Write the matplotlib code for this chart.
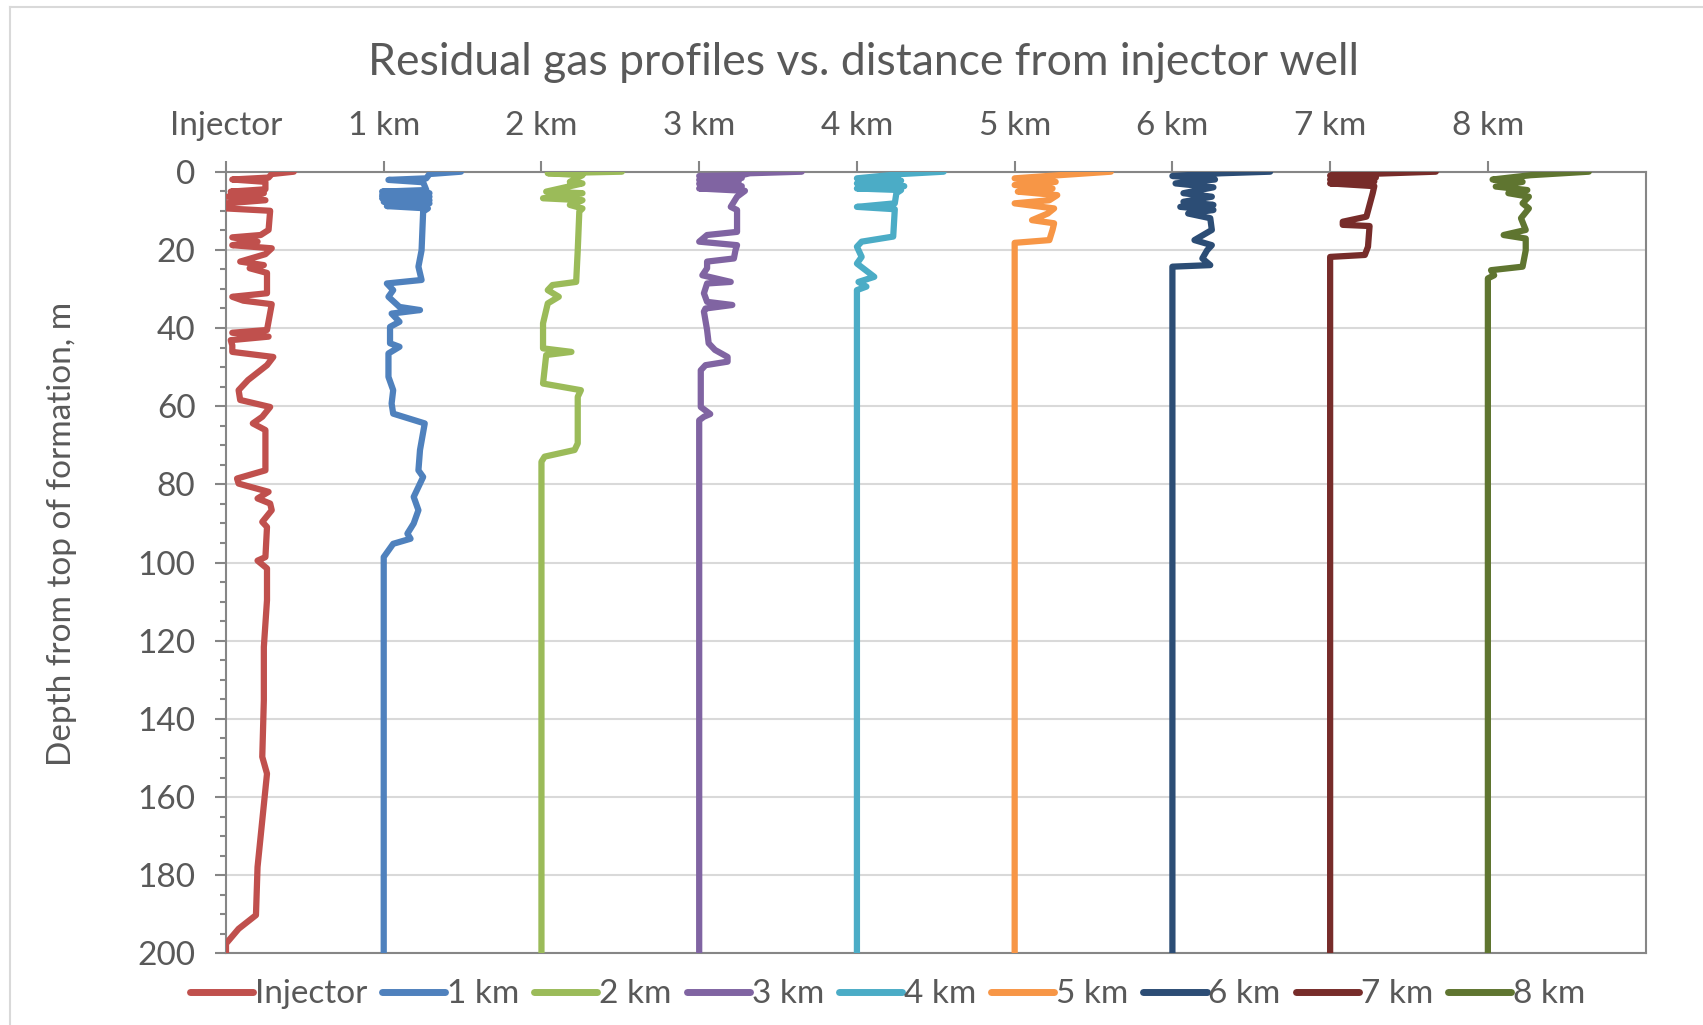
import numpy as np
import matplotlib.pyplot as plt
from matplotlib.lines import Line2D

plt.rcParams['font.family'] = ['Lato', 'DejaVu Sans']

# column labels (x offset of each profile = its index)
names = ["Injector", "1 km", "2 km", "3 km", "4 km", "5 km", "6 km", "7 km", "8 km"]
colors = ["#C0504D", "#4F81BD", "#9BBB59", "#8064A2", "#4BACC6",
          "#F79646", "#2C4D75", "#772C2A", "#5F7530"]

# residual gas profiles: depth (m) and saturation (in column widths)
inj_depth = [0, 0.6, 1.5, 2.0, 2.6, 4.5, 5.1, 5.5, 6.4, 7.3, 8.1, 9.4, 10.0, 14.9, 16.2, 16.8,
             17.9, 18.8, 19.6, 21.1, 23.0, 23.9, 24.7, 25.9, 31.1, 32.0, 33.0, 33.9, 40.5, 41.2,
             42.2, 43.1, 44.4, 46.1, 47.4, 49.5, 53.3, 55.9, 58.4, 60.2, 62.7, 64.4, 66.1, 76.4,
             78.5, 79.8, 81.9, 83.6, 84.9, 86.6, 89.6, 90.9, 98.6, 99.5, 101.5, 109.6, 121.6,
             135.2, 149.7, 154.0, 177.9, 190.2, 193.7, 197.5, 200]
inj_sg = [0.43, 0.29, 0.27, 0.04, 0.25, 0.25, 0.03, 0.24, 0.01, 0.25, 0.0, 0.0, 0.28, 0.27, 0.22, 0.04,
          0.20, 0.04, 0.29, 0.25, 0.09, 0.24, 0.15, 0.26, 0.26, 0.04, 0.11, 0.29, 0.26, 0.04,
          0.27, 0.03, 0.04, 0.04, 0.30, 0.26, 0.14, 0.08, 0.09, 0.28, 0.23, 0.17, 0.25, 0.25,
          0.07, 0.08, 0.27, 0.20, 0.28, 0.29, 0.23, 0.26, 0.25, 0.20, 0.26, 0.26, 0.24,
          0.24, 0.23, 0.26, 0.20, 0.19, 0.08, 0.0, 0.0]

km1_depth = [0, 0.6, 1.7, 2.1, 2.7, 4.7, 5.1, 5.5, 6.0, 6.4, 6.8, 7.3, 7.7, 8.1, 8.8, 9.4, 10.2,
             20.1, 24.3, 27.7, 28.6, 30.3, 32.0, 34.6, 35.4, 36.3, 38.4, 39.7, 43.9, 44.8, 46.5,
             52.5, 55.9, 59.3, 61.9, 64.4, 71.2, 76.4, 78.1, 83.2, 86.6, 90.0, 92.6, 93.9, 95.2,
             98.6, 200]
km1_sg = [0.49, 0.29, 0.27, 0.03, 0.25, 0.27, -0.01, 0.29, -0.01, 0.29, -0.01, 0.29, 0.0, 0.29, 0.02,
          0.28, 0.25, 0.24, 0.22, 0.24, 0.02, 0.06, 0.03, 0.10, 0.23, 0.05, 0.10, 0.04, 0.04,
          0.10, 0.03, 0.03, 0.06, 0.05, 0.06, 0.26, 0.23, 0.22, 0.25, 0.19, 0.22, 0.19, 0.15,
          0.17, 0.06, 0.0, 0.0]

km2_depth = [0, 0.4, 0.9, 2.6, 3.0, 5.1, 5.5, 6.8, 7.3, 8.5, 9.4, 10.2, 20.1, 28.2, 29.0, 30.3,
             32.0, 33.7, 38.8, 45.2, 46.1, 46.9, 54.2, 55.9, 57.6, 69.5, 71.2, 72.9, 74.2, 200]
km2_sg = [0.51, 0.04, 0.26, 0.18, 0.26, 0.03, 0.26, 0.01, 0.26, 0.18, 0.26, 0.24, 0.23, 0.22, 0.07,
          0.04, 0.11, 0.04, 0.01, 0.01, 0.19, 0.03, 0.01, 0.25, 0.23, 0.23, 0.21, 0.02, 0.0, 0.0]

km3_depth = [0, 0.4, 0.9, 1.1, 1.6, 2.1, 2.6, 3.1, 3.7, 4.3, 4.9, 6.4, 9.0, 9.8, 15.4, 16.2, 17.9,
             18.8, 20.1, 22.2, 23.0, 24.7, 26.5, 28.2, 28.6, 31.1, 33.3, 34.1, 35.0, 35.8, 40.5,
             43.9, 45.6, 47.4, 48.6, 49.5, 50.8, 60.2, 62.0, 62.7, 63.6, 200]
km3_sg = [0.65, 0.32, 0.27, 0.0, 0.27, 0.0, 0.25, 0.0, 0.27, 0.0, 0.29, 0.24, 0.20, 0.24, 0.24, 0.05,
          0.0, 0.24, 0.23, 0.22, 0.05, 0.05, 0.02, 0.20, 0.05, 0.03, 0.05, 0.21, 0.04, 0.03, 0.05,
          0.06, 0.10, 0.18, 0.18, 0.04, 0.01, 0.01, 0.07, 0.03, 0.0, 0.0]

km4_depth = [0, 0.6, 1.7, 2.3, 3.0, 3.7, 4.3, 4.7, 5.5, 8.1, 9.0, 9.6, 16.6, 17.9, 19.2, 21.8,
             23.5, 26.9, 28.2, 29.4, 30.3, 200]
km4_sg = [0.55, 0.28, 0.0, 0.28, 0.0, 0.30, 0.0, 0.28, 0.25, 0.24, 0.0, 0.24, 0.23, 0.03, 0.0, 0.03,
          0.0, 0.11, 0.01, 0.06, 0.0, 0.0]

km5_depth = [0, 0.9, 1.7, 2.6, 3.4, 4.3, 5.1, 6.0, 7.3, 8.1, 9.4, 10.7, 12.4, 13.2, 14.9, 17.5,
             18.2, 200]
km5_sg = [0.61, 0.28, 0.0, 0.26, 0.0, 0.24, 0.02, 0.27, 0.22, 0.0, 0.25, 0.21, 0.11, 0.25, 0.24,
          0.22, 0.0, 0.0]

km6_depth = [0, 0.4, 1.1, 2.0, 3.0, 4.0, 5.5, 6.4, 7.7, 8.5, 9.0, 9.8, 10.7, 11.9, 14.9, 17.5,
             18.8, 20.1, 22.2, 23.9, 24.3, 200]
km6_sg = [0.62, 0.31, 0.0, 0.27, 0.02, 0.26, 0.07, 0.25, 0.07, 0.26, 0.05, 0.26, 0.10, 0.24, 0.25,
          0.14, 0.25, 0.22, 0.19, 0.24, 0.0, 0.0]

km7_depth = [0, 0.5, 1.0, 1.5, 2.0, 2.5, 3.0, 3.7, 5.5, 11.5, 12.8, 13.6, 13.9, 19.2, 21.3, 21.8,
             200]
km7_sg = [0.67, 0.30, 0.0, 0.29, 0.0, 0.28, 0.0, 0.28, 0.27, 0.23, 0.08, 0.08, 0.25, 0.24, 0.22,
          0.0, 0.0]

km8_depth = [0, 0.9, 2.0, 2.6, 3.8, 4.7, 5.5, 6.4, 8.1, 9.4, 11.9, 14.9, 16.2, 17.1, 20.1, 24.3,
             25.2, 26.5, 27.3, 200]
km8_sg = [0.64, 0.27, 0.03, 0.22, 0.05, 0.25, 0.13, 0.26, 0.22, 0.26, 0.21, 0.24, 0.10, 0.24, 0.24,
          0.22, 0.02, 0.04, 0.0, 0.0]

depths = [inj_depth, km1_depth, km2_depth, km3_depth, km4_depth,
          km5_depth, km6_depth, km7_depth, km8_depth]
sgs = [inj_sg, km1_sg, km2_sg, km3_sg, km4_sg, km5_sg, km6_sg, km7_sg, km8_sg]

text_c = "#595959"
axis_c = "#868686"

fig = plt.figure(figsize=(17.03, 10.25), dpi=100)
ax = fig.add_axes([0.1327, 0.0698, 0.8336, 0.7627])

for i, (d, s) in enumerate(zip(depths, sgs)):
    ax.plot(i + np.array(s), d, color=colors[i], lw=4.5, solid_capstyle="round",
            solid_joinstyle="round", label=names[i], zorder=3)

ax.set_xlim(0, 9)
ax.set_ylim(200, 0)
ax.xaxis.tick_top()
ax.set_xticks(range(9))
ax.set_xticklabels(names)
ax.set_yticks(range(0, 201, 20))
ax.set_yticks(range(0, 201, 5), minor=True)
ax.tick_params(axis="x", which="major", length=8, width=1.5, color=axis_c,
               labelsize=24, labelcolor=text_c, pad=14)
ax.tick_params(axis="y", which="major", length=8, width=1.5, color=axis_c,
               labelsize=24, labelcolor=text_c, pad=14)
ax.tick_params(axis="y", which="minor", length=4.5, width=1.5, color=axis_c)
ax.grid(axis="y", which="major", color="#D9D9D9", lw=1.5, zorder=0)
for sp in ax.spines.values():
    sp.set_color(axis_c)
    sp.set_linewidth(1.5)

ax.set_ylabel("Depth from top of formation, m", fontsize=24, color=text_c, va="center")
ax.yaxis.set_label_coords(-0.1156, 0.536)

fig.text(0.507, 0.939, "Residual gas profiles vs. distance from injector well",
         ha="center", va="center", fontsize=32, color=text_c)

handles = [Line2D([0], [0], color=c, lw=5, solid_capstyle="round") for c in colors]
fig.legend(handles, names, loc="center", bbox_to_anchor=(0.521, 0.03), ncol=9, frameon=False,
           fontsize=24, labelcolor=text_c, handlelength=1.9, handletextpad=0.05,
           columnspacing=0.45)

# outer chart border (top and left edges)
fig.add_artist(Line2D([0.0058, 1], [0.9935, 0.9935], color="#D9D9D9", lw=1.5))
fig.add_artist(Line2D([0.0058, 0.0058], [0, 0.9935], color="#D9D9D9", lw=1.5))

fig.savefig("out.png", dpi=100)
